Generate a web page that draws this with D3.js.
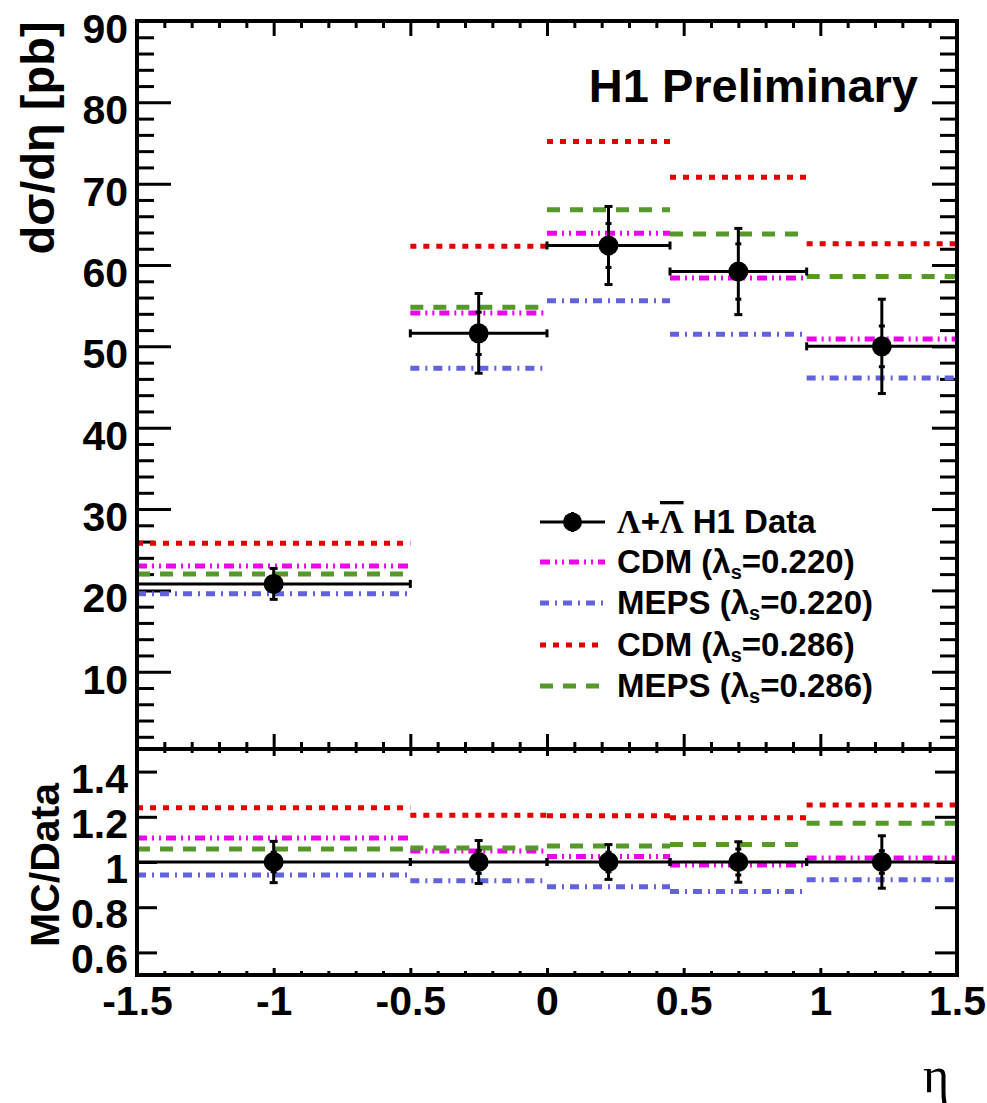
<!DOCTYPE html>
<html><head><meta charset="utf-8">
<script src="https://cdn.jsdelivr.net/npm/d3@7"></script>
<style>
body{margin:0;background:#fff;}
svg text{font-family:"Liberation Sans",Arial,Helvetica,sans-serif;font-weight:bold;fill:#000;}
</style>
</head><body>
<svg id="c" width="987" height="1103"></svg>
<script>
// ---------------- data ----------------
const binEdges = [-1.5, -0.5, 0, 0.45, 0.95, 1.5];
const dataVal  = [20.8, 51.6, 62.4, 59.2, 50.0];
const dataErrTot  = [1.9, 4.9, 4.8, 5.3, 5.8];
const dataErrStat = [0.9, 2.6, 2.7, 3.4, 2.5];
const cdm220  = [23.0, 54.1, 63.9, 58.4, 50.9];
const meps220 = [19.6, 47.3, 55.6, 51.5, 46.1];
const cdm286  = [25.8, 62.3, 75.2, 70.8, 62.6];
const meps286 = [22.0, 54.8, 66.8, 63.8, 58.6];
const xTickVals = [-1.5, -1, -0.5, 0, 0.5, 1, 1.5];
const xTickLabels = ["-1.5", "-1", "-0.5", "0", "0.5", "1", "1.5"];
const yTopTicks = [10, 20, 30, 40, 50, 60, 70, 80, 90];
const yRatioTicks = [0.6, 0.8, 1, 1.2, 1.4];
const yRatioLabels = ["0.6", "0.8", "1", "1.2", "1.4"];

const series = [
  {name:"CDM", lam:"0.220", vals:cdm220,  color:"#ee00ee", dash:"10,5,2,5,2,5"},
  {name:"MEPS", lam:"0.220", vals:meps220, color:"#6262dc", dash:"9,6,2,6"},
  {name:"CDM", lam:"0.286", vals:cdm286,  color:"#e20000", dash:"6,7"},
  {name:"MEPS", lam:"0.286", vals:meps286, color:"#55992b", dash:"13,10"}
];

// ---------------- layout ----------------
const L = 137, R = 957, T1 = 21, B1 = 749, T2 = 749, B2 = 975;
const svg = d3.select("#c");
const x  = d3.scaleLinear().domain([-1.5, 1.5]).range([L, R]);
const y1 = d3.scaleLinear().domain([0.5, 90]).range([B1, T1]);
const y2 = d3.scaleLinear().domain([0.5, 1.5]).range([B2, T2]);

const bins = dataVal.map((v, i) => ({i, x0: binEdges[i], x1: binEdges[i+1], xc: (binEdges[i]+binEdges[i+1])/2, v}));

function styleAxis(g){
  g.select(".domain").remove();
  g.selectAll(".tick line").attr("stroke", "#000").attr("stroke-width", 3);
  g.selectAll(".tick text").style("font-size", "41px").style("font-weight", "bold")
    .style("font-family", '"Liberation Sans",Arial,sans-serif').attr("fill", "#000");
}

const minorX = d3.range(-15, 16).map(d => d/10).filter(d => Math.abs(d*2 - Math.round(d*2)) > 1e-6);
const minorTop = d3.range(2, 90, 2).filter(d => d % 10 !== 0);

// ---- top panel axes ----
svg.append("g").attr("transform", `translate(${L},0)`)
  .call(d3.axisLeft(y1).tickValues(yTopTicks).tickSizeInner(-34).tickSizeOuter(0).tickPadding(9).tickFormat(d3.format("d")))
  .call(styleAxis).call(g => g.selectAll(".tick text").attr("dy", "0.52em"));
svg.append("g").attr("transform", `translate(${L},0)`)
  .call(d3.axisLeft(y1).tickValues(minorTop).tickSizeInner(-17).tickSizeOuter(0).tickFormat(""))
  .call(styleAxis);
svg.append("g").attr("transform", `translate(${R},0)`)
  .call(d3.axisRight(y1).tickValues(yTopTicks).tickSizeInner(-25).tickSizeOuter(0).tickFormat(""))
  .call(styleAxis);
svg.append("g").attr("transform", `translate(${R},0)`)
  .call(d3.axisRight(y1).tickValues(minorTop).tickSizeInner(-17).tickSizeOuter(0).tickFormat(""))
  .call(styleAxis);
svg.append("g").attr("transform", `translate(0,${T1})`)
  .call(d3.axisTop(x).tickValues(xTickVals).tickSizeInner(-15).tickSizeOuter(0).tickFormat(""))
  .call(styleAxis);
svg.append("g").attr("transform", `translate(0,${T1})`)
  .call(d3.axisTop(x).tickValues(minorX).tickSizeInner(-7).tickSizeOuter(0).tickFormat(""))
  .call(styleAxis);
svg.append("g").attr("transform", `translate(0,${B1})`)
  .call(d3.axisBottom(x).tickValues(xTickVals).tickSizeInner(-15).tickSizeOuter(0).tickFormat(""))
  .call(styleAxis);
svg.append("g").attr("transform", `translate(0,${B1})`)
  .call(d3.axisBottom(x).tickValues(minorX).tickSizeInner(-7).tickSizeOuter(0).tickFormat(""))
  .call(styleAxis);

// ---- ratio panel axes ----
svg.append("g").attr("transform", `translate(${L},0)`)
  .call(d3.axisLeft(y2).tickValues(yRatioTicks).tickSizeInner(-20).tickSizeOuter(0).tickPadding(9)
    .tickFormat((d, i) => yRatioLabels[i]))
  .call(styleAxis).call(g => g.selectAll(".tick text").attr("dy", "0.5em"));
svg.append("g").attr("transform", `translate(${R},0)`)
  .call(d3.axisRight(y2).tickValues(yRatioTicks).tickSizeInner(-22).tickSizeOuter(0).tickFormat(""))
  .call(styleAxis);
svg.append("g").attr("transform", `translate(0,${T2})`)
  .call(d3.axisTop(x).tickValues(xTickVals).tickSizeInner(-7).tickSizeOuter(0).tickFormat(""))
  .call(styleAxis);
svg.append("g").attr("transform", `translate(0,${T2})`)
  .call(d3.axisTop(x).tickValues(minorX).tickSizeInner(-4).tickSizeOuter(0).tickFormat(""))
  .call(styleAxis);
svg.append("g").attr("transform", `translate(0,${B2})`)
  .call(d3.axisBottom(x).tickValues(xTickVals).tickSizeInner(-7).tickSizeOuter(0).tickPadding(11)
    .tickFormat((d, i) => xTickLabels[i]))
  .call(styleAxis);
svg.append("g").attr("transform", `translate(0,${B2})`)
  .call(d3.axisBottom(x).tickValues(minorX).tickSizeInner(-4).tickSizeOuter(0).tickFormat(""))
  .call(styleAxis);

// ---- MC lines ----
series.forEach(s => {
  const gTop = svg.append("g");
  gTop.selectAll("line").data(bins).join("line")
    .attr("x1", d => x(d.x0)).attr("x2", d => x(d.x1))
    .attr("y1", d => y1(s.vals[d.i])).attr("y2", d => y1(s.vals[d.i]))
    .attr("stroke", s.color).attr("stroke-width", 5).attr("stroke-dasharray", s.dash);
  const gBot = svg.append("g");
  gBot.selectAll("line").data(bins).join("line")
    .attr("x1", d => x(d.x0)).attr("x2", d => x(d.x1))
    .attr("y1", d => y2(s.vals[d.i] / d.v)).attr("y2", d => y2(s.vals[d.i] / d.v))
    .attr("stroke", s.color).attr("stroke-width", 5).attr("stroke-dasharray", s.dash);
});

// ---- data points ----
function drawData(yS, valF, totF, statF){
  const g = svg.append("g").attr("stroke", "#000").attr("stroke-width", 3);
  bins.forEach(d => {
    const v = valF(d), et = totF(d), es = statF(d);
    const yc = yS(v), xc = x(d.xc);
    g.append("line").attr("x1", x(d.x0)).attr("x2", x(d.x1)).attr("y1", yc).attr("y2", yc);
    g.append("line").attr("x1", x(d.x0)).attr("x2", x(d.x0)).attr("y1", yc-4).attr("y2", yc+4);
    g.append("line").attr("x1", x(d.x1)).attr("x2", x(d.x1)).attr("y1", yc-4).attr("y2", yc+4);
    g.append("line").attr("x1", xc).attr("x2", xc).attr("y1", yS(v+et)).attr("y2", yS(v-et));
    [v+et, v-et].forEach(t => g.append("line").attr("x1", xc-4).attr("x2", xc+4).attr("y1", yS(t)).attr("y2", yS(t)));
    [v+es, v-es].forEach(t => g.append("line").attr("x1", xc-3).attr("x2", xc+3).attr("y1", yS(t)).attr("y2", yS(t)));
    g.append("circle").attr("cx", xc).attr("cy", yc).attr("r", 10).attr("fill", "#000").attr("stroke", "none");
  });
}
drawData(y1, d => d.v, d => dataErrTot[d.i], d => dataErrStat[d.i]);
drawData(y2, d => 1, d => dataErrTot[d.i] / d.v, d => dataErrStat[d.i] / d.v);

// ---- frames ----
svg.append("rect").attr("x", L).attr("y", T1).attr("width", R-L).attr("height", B1-T1)
  .attr("fill", "none").attr("stroke", "#000").attr("stroke-width", 4);
svg.append("rect").attr("x", L).attr("y", T2).attr("width", R-L).attr("height", B2-T2)
  .attr("fill", "none").attr("stroke", "#000").attr("stroke-width", 4);

// ---- titles ----
svg.append("text").attr("transform", "translate(54,138) rotate(-90)").attr("text-anchor", "middle")
  .style("font-size", "47px").text("dσ/dη [pb]");
svg.append("text").attr("transform", "translate(59,865) rotate(-90)").attr("text-anchor", "middle")
  .style("font-size", "41px").text("MC/Data");
svg.append("text").attr("x", 923).attr("y", 1092)
  .style("font-family", '"Liberation Serif","Times New Roman",serif').style("font-weight", "normal")
  .style("font-size", "50px").text("η");
svg.append("text").attr("x", 918).attr("y", 102).attr("text-anchor", "end")
  .style("font-size", "47px").text("H1 Preliminary");

// ---- legend ----
const legX0 = 540, legX1 = 605, legTx = 617;
const legRows = [522, 562, 603, 645, 686];
const lg = svg.append("g");
// data entry
lg.append("line").attr("x1", legX0).attr("x2", legX1).attr("y1", legRows[0]).attr("y2", legRows[0])
  .attr("stroke", "#000").attr("stroke-width", 3);
lg.append("line").attr("x1", (legX0+legX1)/2).attr("x2", (legX0+legX1)/2).attr("y1", legRows[0]-10).attr("y2", legRows[0]+10)
  .attr("stroke", "#000").attr("stroke-width", 3);
lg.append("circle").attr("cx", (legX0+legX1)/2).attr("cy", legRows[0]).attr("r", 9.5).attr("fill", "#000");
const t0 = lg.append("text").attr("x", legTx).attr("y", legRows[0] + 11).style("font-size", "33px");
t0.append("tspan").style("font-family", '"Liberation Serif",serif').text("Λ");
t0.append("tspan").text("+");
t0.append("tspan").style("font-family", '"Liberation Serif",serif').style("text-decoration", "overline").text("Λ");
t0.append("tspan").text(" H1 Data");
series.forEach((s, k) => {
  const yy = legRows[k+1];
  lg.append("line").attr("x1", legX0).attr("x2", legX1).attr("y1", yy).attr("y2", yy)
    .attr("stroke", s.color).attr("stroke-width", 5).attr("stroke-dasharray", s.dash);
  const t = lg.append("text").attr("x", legTx).attr("y", yy + 11).style("font-size", "33px");
  t.append("tspan").text(s.name + " (λ");
  t.append("tspan").attr("dy", 6).style("font-size", "20px").text("s");
  t.append("tspan").attr("dy", -6).text("=" + s.lam + ")");
});
</script>
</body></html>
